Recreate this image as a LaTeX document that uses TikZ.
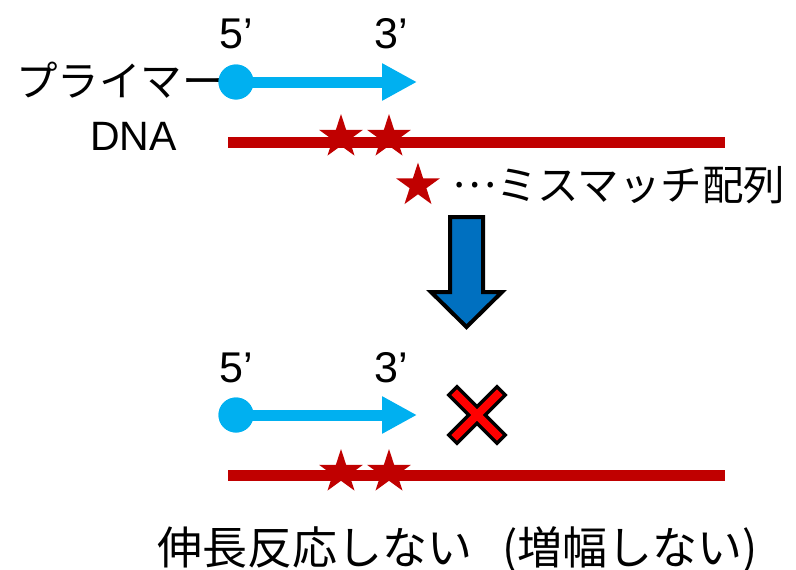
\documentclass[tikz,border=0pt]{standalone}
\usepackage{fontspec}
\setmainfont{Liberation Sans}
\newfontfamily\jp{Noto Sans CJK JP}
\newfontfamily\jpfw[RawFeature=+fwid]{Noto Sans CJK JP}
\usetikzlibrary{shapes.geometric,arrows.meta,calc}
\definecolor{primerblue}{HTML}{00B0F0}
\definecolor{dnared}{HTML}{C00000}
\definecolor{downblue}{HTML}{0070C0}
\definecolor{xred}{HTML}{FF0000}
\tikzset{
  lbl/.style={inner sep=0pt, font=\fontsize{43}{43}\selectfont},
  jptext/.style={inner sep=0pt, font=\jp\fontsize{41.5}{41.5}\selectfont},
  dot5/.style={circle, fill=primerblue, minimum size=35pt, inner sep=0pt},
  primer/.style={primerblue, line width=11pt, -{Triangle[length=35pt 0,width=35pt 0]}},
  dnaline/.style={dnared, line width=11pt},
  mstar/.style={star, star points=5, star point ratio=2.618, fill=dnared, minimum size=46pt, inner sep=0pt},
}
\begin{document}
\begin{tikzpicture}[x=1pt,y=-1pt]
\useasboundingbox (0,0) rectangle (796,570);
% top labels
\node[lbl, anchor=base west] (t5) at (219,48) {5’};
\node[lbl, anchor=base west] (t3) at (374,48) {3’};
\node[jptext, anchor=base east] (primerlbl) at (224,96) {プライマー};
\node[lbl, font=\fontsize{41}{41}\selectfont, anchor=base west] (dnalbl) at (90,150) {DNA};
% top DNA
\coordinate (d1a) at (228,142);
\coordinate (d1b) at (725,142);
\draw[dnaline] (d1a) -- (d1b);
\node[mstar] (s1) at (341,137) {};
\node[mstar] (s2) at (389,137) {};
% top primer
\node[dot5] (c1) at (236,82) {};
\coordinate (tip1) at (417,82);
\draw[primer] (c1.center) -- (tip1);
\node[dot5] at (236,82) {};
% legend
\node[mstar] (s3) at (418,185.5) {};
\node[jptext, anchor=base west] (legend) at (452,200) {\raisebox{0.3em}{\jpfw …}ミスマッチ配列};
% down arrow
\draw[fill=downblue, line width=4pt, miter limit=10]
  (450,217) -- (483,217) -- (483,292) -- (502,292) -- (466.5,327) -- (431,292) -- (450,292) -- cycle;
% bottom labels
\node[lbl, anchor=base west] (b5) at (219,382) {5’};
\node[lbl, anchor=base west] (b3) at (374,382) {3’};
% bottom DNA
\coordinate (d2a) at (228,475);
\coordinate (d2b) at (725,475);
\draw[dnaline] (d2a) -- (d2b);
\node[mstar] (s4) at (341,472) {};
\node[mstar] (s5) at (389,472) {};
% bottom primer
\node[dot5] (c2) at (236,415) {};
\coordinate (tip2) at (417,415);
\draw[primer] (c2.center) -- (tip2);
\node[dot5] at (236,415) {};
% X mark
\coordinate (xc) at (477,415);
\draw[black, line width=15pt, line cap=rect] ($(xc)+(-20,-20)$) -- ($(xc)+(20,20)$) ($(xc)+(-20,20)$) -- ($(xc)+(20,-20)$);
\draw[xred, line width=8pt, line cap=rect] ($(xc)+(-20,-20)$) -- ($(xc)+(20,20)$) ($(xc)+(-20,20)$) -- ($(xc)+(20,-20)$);
% bottom caption
\node[inner sep=0pt, font=\jp\fontsize{45}{45}\selectfont, anchor=base west] (caption) at (157,564) {伸長反応しない\hspace{30pt}(増幅しない)};
\end{tikzpicture}
\end{document}
